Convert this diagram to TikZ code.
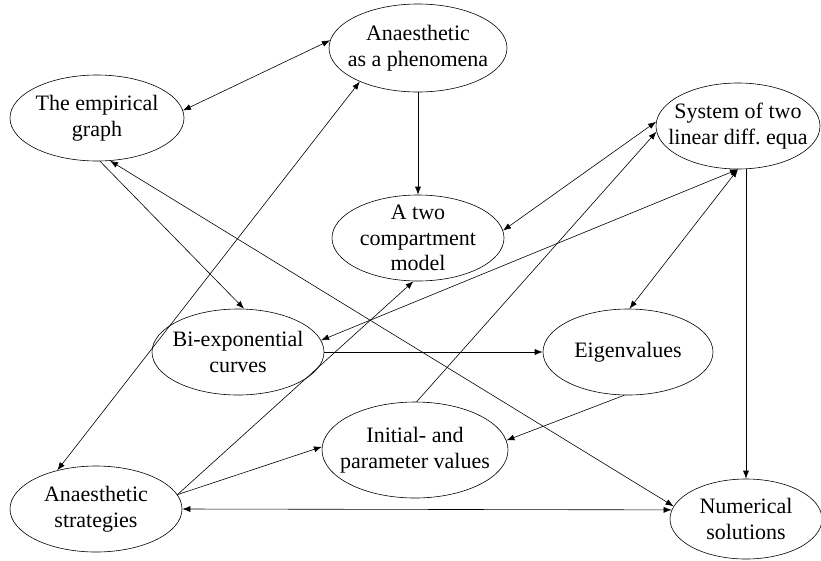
\documentclass[tikz,border=0pt]{standalone}
\usepackage{fontspec}
\setmainfont{Liberation Serif}
\usetikzlibrary{shapes.geometric,arrows.meta}
\begin{document}
\begin{tikzpicture}[
  x=1pt, y=-1pt,
  every node/.style={ellipse, draw, line width=0.6pt, align=center, inner sep=-30pt,
    font=\fontsize{22}{25.5}\selectfont},
  link/.style={line width=0.6pt, -{Latex[length=8pt,width=6pt]}},
  both/.style={line width=0.6pt, {Latex[length=8pt,width=6pt]}-{Latex[length=8pt,width=6pt]}}
]
\useasboundingbox (0,0) rectangle (821,560);
\node[minimum width=178pt, minimum height=88pt] (phen) at (418,48) {Anaesthetic\\as a phenomena};
\node[minimum width=174pt, minimum height=86pt] (emp) at (97,118) {The empirical\\graph};
\node[minimum width=164pt, minimum height=86pt] (sys) at (738,126) {System of two\\linear diff.\ equa};
\node[minimum width=172pt, minimum height=86pt] (model) at (418,238) {A two\\compartment\\model};
\node[minimum width=172pt, minimum height=86pt] (biexp) at (238,352) {Bi-exponential\\curves};
\node[minimum width=170pt, minimum height=86pt] (eig) at (628,352) {Eigenvalues};
\node[minimum width=186pt, minimum height=96pt] (init) at (415,450) {Initial- and\\parameter values};
\node[minimum width=172pt, minimum height=86pt] (strat) at (96,509) {Anaesthetic\\strategies};
\node[minimum width=152pt, minimum height=80pt] (num) at (746,519) {Numerical\\solutions};

\draw[both] (emp.5) -- (phen.175);
\draw[link] (phen) -- (model);
\draw[link] (emp.-86) -- (biexp.82);
\draw[both] (emp.-73) -- (num.170);
\draw[both] (strat.135) -- (phen.-150);
\draw[link] (strat.10) -- (model.-96);
\draw[link] (strat.10) -- (init.178);
\draw[both] (strat.east) -- (num.173);
\draw[link] (init.88) -- (sys.-176);
\draw[both] (model.5) -- (sys.177);
\draw[both] (biexp.8) -- (sys.-90);
\draw[both] (eig.88) -- (sys.-90);
\draw[link] (num.north |- sys.south) -- (num.north);
\draw[link] (biexp) -- (eig);
\draw[link] (eig.-95) -- (init.6);
\end{tikzpicture}
\end{document}
